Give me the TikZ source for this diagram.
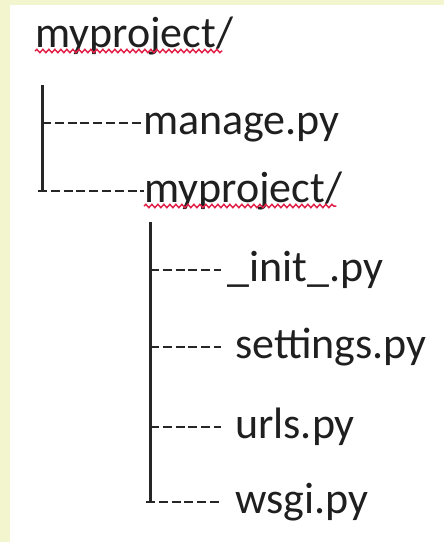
\documentclass[tikz,border=0pt]{standalone}
\usepackage{fontspec}
\setmainfont{Carlito}
\usetikzlibrary{decorations.pathmorphing}
\definecolor{pagebg}{RGB}{242,245,206}
\definecolor{squig}{RGB}{226,32,72}
\tikzset{
  fname/.style={anchor=base west, inner sep=0pt, font=\fontsize{44}{50}\selectfont, text=black!88},
  trunk/.style={line width=3pt, draw=black!85},
  twig/.style={line width=2.6pt, draw=black!85, dash pattern=on 9pt off 3.8pt},
  spell/.style={draw=squig, line width=1.5pt, decorate, decoration={snake, amplitude=1.6pt, segment length=6pt}}
}
\begin{document}
\begin{tikzpicture}[x=1pt,y=-1pt]

% ---------------- page ----------------
\fill[pagebg] (0,0) rectangle (444,542);
\fill[white] (10,5) rectangle (444,542);
\useasboundingbox (0,0) rectangle (444,542);

% ---------------- top level ----------------
\node[fname] (root) at (35,47) {myproject/};
\node[fname] (manage) at (143,134) {manage.py};
\node[fname] (sub) at (144,202) {myproject/};

\coordinate (t1) at (42,85);
\coordinate (b1) at (42,123);
\coordinate (b2) at (42,191);
\draw[trunk] (t1) -- (b2);
\draw[twig] (b1) -- (b1 -| manage.west);
\draw[twig] ([xshift=-4pt]b2) -- (b2 -| sub.west);

% ---------------- inner folder ----------------
\node[fname] (init) at (227,281) {\_init\_.py};
\node[fname] (settings) at (235,358) {settings.py};
\node[fname] (urls) at (235,438) {urls.py};
\node[fname] (wsgi) at (235,513) {wsgi.py};

\coordinate (t2) at (150,222);
\coordinate (c1) at (150,270);
\coordinate (c2) at (150,347);
\coordinate (c3) at (150,427);
\coordinate (c4) at (150,502);
\draw[trunk] (t2) -- (c4);
\draw[twig] (c1) -- ([xshift=-6pt]c1 -| init.west);
\draw[twig] (c2) -- ([xshift=-14pt]c2 -| settings.west);
\draw[twig] (c3) -- ([xshift=-14pt]c3 -| urls.west);
\draw[twig] ([xshift=-4pt]c4) -- ([xshift=-14pt]c4 -| wsgi.west);

% ---------------- spell-check marks ----------------
\draw[spell] ([yshift=-4pt]root.base west) -- ([xshift=-11pt,yshift=-4pt]root.base east);
\draw[spell] ([yshift=-4pt]sub.base west) -- ([xshift=-6pt,yshift=-4pt]sub.base east);

\end{tikzpicture}
\end{document}
